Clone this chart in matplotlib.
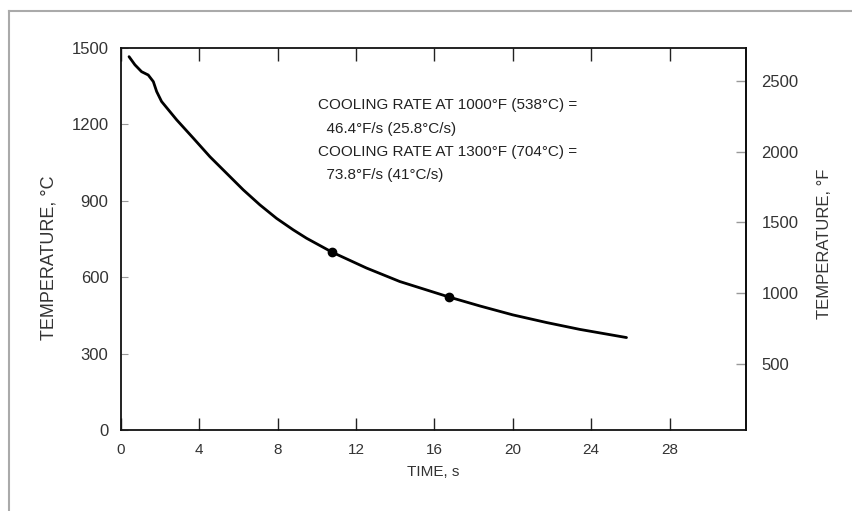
import matplotlib.pyplot as plt
from matplotlib.lines import Line2D

plt.rcParams['font.family'] = ['Liberation Sans', 'DejaVu Sans']

# cooling curve
time_s = [0.41, 0.71, 1.05, 1.39, 1.65, 1.82, 2.07, 2.84, 3.69, 4.54, 5.39, 6.24,
          7.09, 7.94, 8.79, 9.47, 10.78, 12.53, 14.23, 16.75, 18.32, 20.0, 21.72,
          23.42, 25.8]
temp_c = [1466, 1434, 1407, 1394, 1368, 1329, 1290, 1218, 1146, 1073, 1008, 943,
          884, 831, 786, 753, 698, 636, 583, 522, 487, 452, 422, 395, 363]

# points where the cooling rate is taken
rate_time = [10.78, 16.75]
rate_temp = [698, 522]

x_ticks = [0, 4, 8, 12, 16, 20, 24, 28]
c_ticks = [0, 300, 600, 900, 1200, 1500]
f_ticks = [500, 1000, 1500, 2000, 2500]

notes = ['COOLING RATE AT 1000\u00b0F (538\u00b0C) =',
         '  46.4\u00b0F/s (25.8\u00b0C/s)',
         'COOLING RATE AT 1300\u00b0F (704\u00b0C) =',
         '  73.8\u00b0F/s (41\u00b0C/s)']

fig = plt.figure(figsize=(8.53, 5.11), dpi=100)
ax = fig.add_axes([121 / 853, 1 - 430 / 511, (746 - 121) / 853, (430 - 48) / 511])

ax.plot(time_s, temp_c, color='black', lw=2.0, solid_capstyle='round',
        solid_joinstyle='round')
ax.plot(rate_time, rate_temp, 'o', color='black', ms=6)

ax.set_xlim(0, 31.9)
ax.set_ylim(0, 1500)
ax.set_xticks(x_ticks)
ax.set_yticks(c_ticks)

ax.tick_params(axis='x', direction='in', length=9, width=1, color='#222222',
               top=True, pad=9, labelsize=11, labelcolor='#333333')
ax.tick_params(axis='y', direction='in', length=5, width=0.8, color='#999999',
               pad=9, labelsize=12, labelcolor='#333333')
for s in ax.spines.values():
    s.set_linewidth(1.3)
    s.set_color('#111111')

ax.set_xlabel('TIME, s', fontsize=11, color='#333333', labelpad=6)
ax.set_ylabel('TEMPERATURE, \u00b0C', fontsize=13, color='#333333')
ax.yaxis.set_label_coords(-0.101, 0.45)

sec = ax.secondary_yaxis('right', functions=(lambda c: c * 1.8 + 32,
                                             lambda f: (f - 32) / 1.8))
sec.set_yticks(f_ticks)
sec.tick_params(direction='in', length=7, width=1, color='#999999', pad=11,
                labelsize=12, labelcolor='#333333')
sec.spines['right'].set_linewidth(1.3)

# right axis title placed in figure pixels
fig.text(825 / 853, 1 - 244 / 511, 'TEMPERATURE, \u00b0F', fontsize=12,
         color='#333333', rotation=90, ha='center', va='center')

y0 = 105
for i, line in enumerate(notes):
    fig.text(318 / 853, 1 - (y0 + i * 23.5) / 511, line, fontsize=11,
             color='#222222', va='center', ha='left')

# grey frame round the figure
fig.add_artist(Line2D([9 / 853, 9 / 853], [0, 1 - 11 / 511], color='#aaaaaa', lw=1.5))
fig.add_artist(Line2D([9 / 853, 1], [1 - 11 / 511, 1 - 11 / 511], color='#aaaaaa', lw=1.5))

fig.savefig('out.png', dpi=100)
